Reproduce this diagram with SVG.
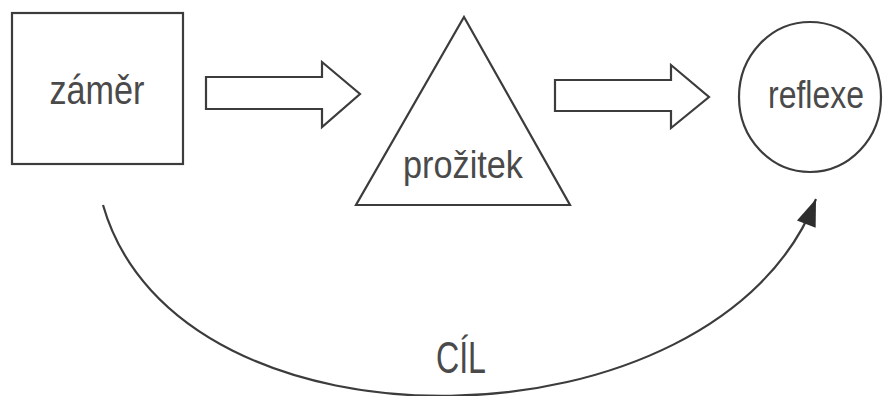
<svg xmlns="http://www.w3.org/2000/svg" width="884" height="396" viewBox="0 0 884 396">
  <style>
    .shape { fill: #ffffff; stroke: #3c3c3c; stroke-width: 2.2; stroke-linejoin: miter; }
    .label { font-family: "Liberation Sans", Arial, sans-serif; fill: #4a4a4a; text-anchor: middle; }
    .conn { fill: none; stroke: #3c3c3c; stroke-width: 2.2; }
  </style>
  <defs>
    <marker id="head" markerUnits="userSpaceOnUse" markerWidth="30" markerHeight="24" viewBox="-28 -12 30 24" refX="0" refY="0" orient="auto">
      <path d="M0,0 L-27,-10 L-27,10 Z" fill="#2e2e2e"/>
    </marker>
  </defs>
  <rect width="884" height="396" fill="#ffffff"/>

  <g id="connectors">
    <path id="arrow1" class="shape" d="M206,77 L322,77 L322,62 L360,94 L322,127 L322,109 L206,109 Z"/>
    <path id="arrow2" class="shape" d="M555,80 L671,80 L671,65 L709,97 L671,128 L671,111 L555,111 Z"/>
    <path id="goal" class="conn" d="M103,205 C178,467 718,454 816,199" marker-end="url(#head)"/>
    <text class="label" x="461" y="373" font-size="44" textLength="50" lengthAdjust="spacingAndGlyphs">CÍL</text>
  </g>

  <g id="zamer">
    <rect class="shape" x="12" y="13" width="171" height="151"/>
    <text class="label" x="97" y="104" font-size="41" textLength="95" lengthAdjust="spacingAndGlyphs">záměr</text>
  </g>

  <g id="prozitek">
    <polygon class="shape" points="464,17 570,205 356,205"/>
    <text class="label" x="463" y="178" font-size="38" textLength="120" lengthAdjust="spacingAndGlyphs">prožitek</text>
  </g>

  <g id="reflexe">
    <ellipse class="shape" cx="810" cy="97" rx="71" ry="75"/>
    <text class="label" x="816" y="108" font-size="38" textLength="96" lengthAdjust="spacingAndGlyphs">reflexe</text>
  </g>
</svg>
